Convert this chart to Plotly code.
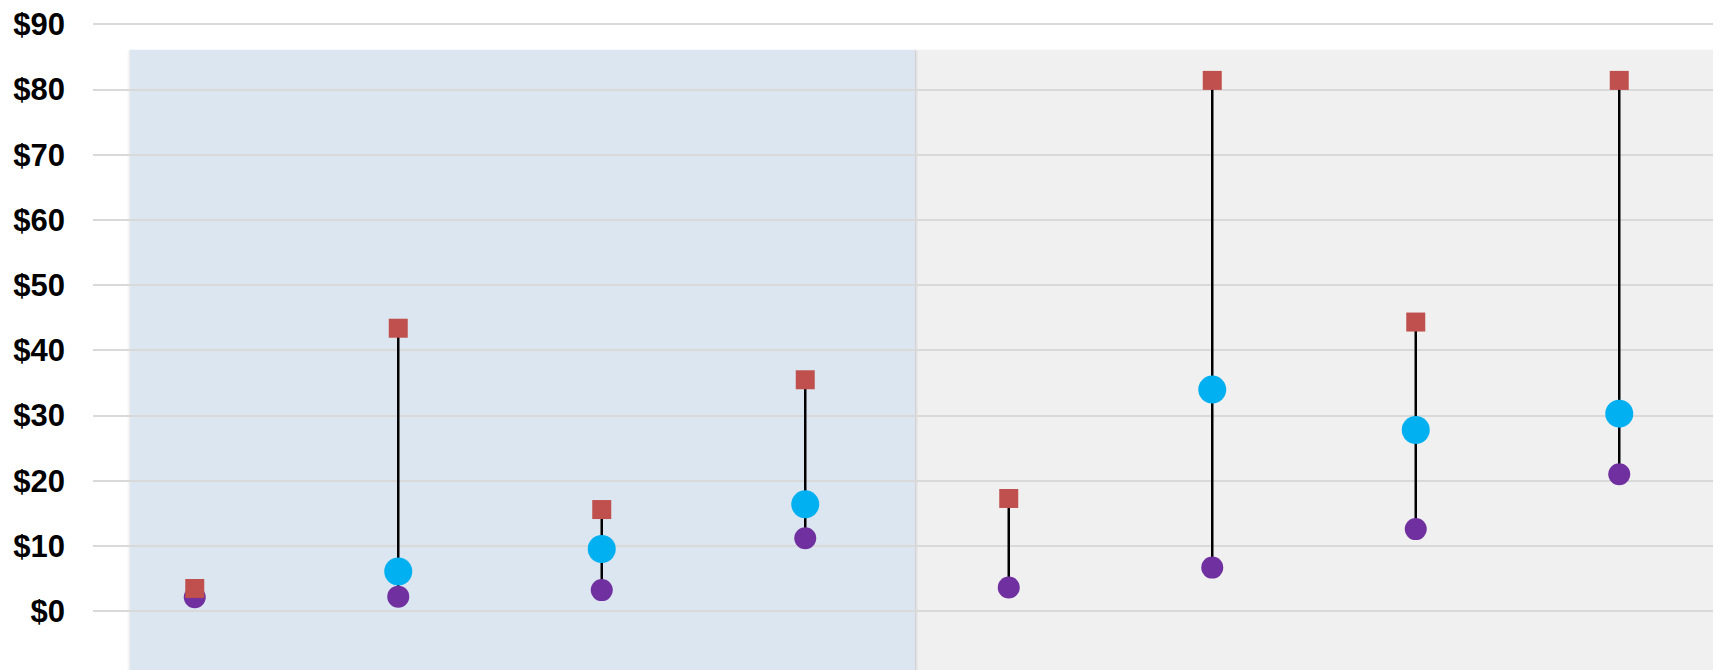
import plotly.graph_objects as go

categories = [0, 1, 2, 3, 4, 5, 6, 7]
high_values = [3.5, 43.4, 15.6, 35.5, 17.3, 81.4, 44.35, 81.4]
mid_values = [None, 6.1, 9.55, 16.4, None, 34.0, 27.8, 30.3]
low_values = [2.15, 2.25, 3.25, 11.2, 3.65, 6.7, 12.6, 21.0]
tick_vals = [0, 10, 20, 30, 40, 50, 60, 70, 80, 90]
tick_text = ["$0", "$10", "$20", "$30", "$40", "$50", "$60", "$70", "$80", "$90"]

fig = go.Figure()

# connector lines (low -> high)
lx, ly = [], []
for c, lo, hi in zip(categories, low_values, high_values):
    lx += [c, c, None]
    ly += [lo, hi, None]
fig.add_trace(go.Scatter(x=lx, y=ly, mode="lines",
                         line=dict(color="#000000", width=2.5),
                         hoverinfo="skip", showlegend=False))

fig.add_trace(go.Scatter(x=categories, y=mid_values, mode="markers",
                         marker=dict(symbol="circle", size=28, color="#00B0F0",
                                     line=dict(width=0)),
                         showlegend=False))
fig.add_trace(go.Scatter(x=categories, y=low_values, mode="markers",
                         marker=dict(symbol="circle", size=22, color="#7030A0",
                                     line=dict(width=0)),
                         showlegend=False))
fig.add_trace(go.Scatter(x=categories, y=high_values, mode="markers",
                         marker=dict(symbol="square", size=19, color="#C0504D",
                                     line=dict(width=0)),
                         showlegend=False))

# background panels
shapes = [
    dict(type="rect", xref="x", yref="y", x0=3.539, x1=8, y0=-20, y1=86.1,
         fillcolor="#F0F0F0", line=dict(width=0), layer="below"),
    dict(type="rect", xref="x", yref="y", x0=-0.318, x1=3.539, y0=-20, y1=86.1,
         fillcolor="#DCE6F1", line=dict(width=0), layer="below"),
]
# soft shadow edges of the left panel
for i, op in enumerate([0.12, 0.07, 0.035]):
    dx = (i + 0.5) / 203.5
    shapes.append(dict(type="line", xref="x", yref="y", x0=3.539 + dx, x1=3.539 + dx,
                       y0=-20, y1=86.1 - i * 0.15,
                       line=dict(color="rgba(0,0,0,%.3f)" % op, width=1), layer="below"))
    shapes.append(dict(type="line", xref="x", yref="y", x0=-0.318 - dx, x1=-0.318 - dx,
                       y0=-20, y1=86.1 - i * 0.15,
                       line=dict(color="rgba(0,0,0,%.3f)" % (op * 0.6), width=1), layer="below"))

fig.update_layout(
    width=1713, height=662,
    margin=dict(l=85, r=0, t=0, b=0),
    paper_bgcolor="#FFFFFF", plot_bgcolor="rgba(0,0,0,0)",
    shapes=shapes,
    xaxis=dict(range=[-0.5, 7.5], showgrid=False, zeroline=False,
               showticklabels=False, showline=False, fixedrange=True),
    yaxis=dict(range=[-9.0, 92.5], tickvals=tick_vals, ticktext=tick_text,
               showgrid=True, gridcolor="#D9D9D9", gridwidth=2,
               zeroline=False, showline=False, ticks="",
               ticklabelstandoff=27, ticklabeloverflow="allow",
               tickfont=dict(family="Liberation Sans, Arial, sans-serif",
                             size=31, color="#000000", weight="bold")),
)

fig.write_html("out.html")
